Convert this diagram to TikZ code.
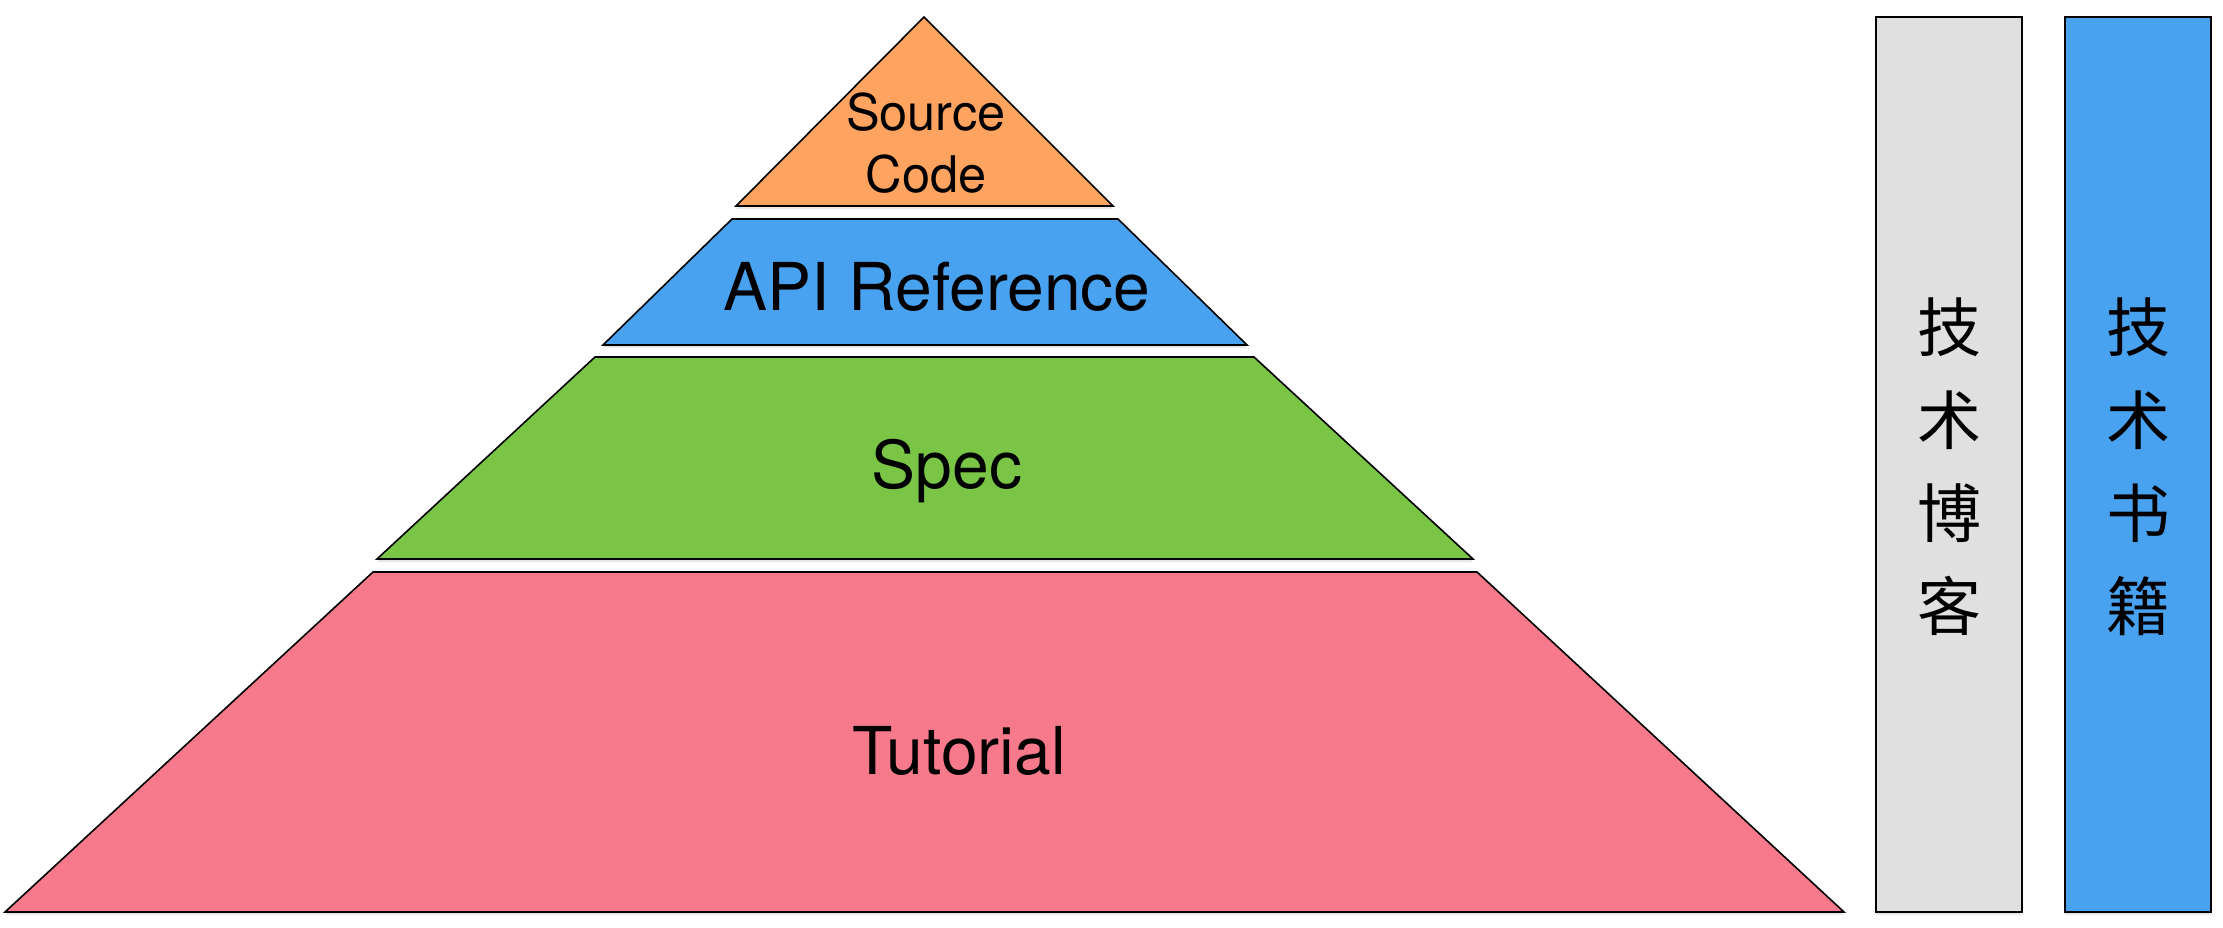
\documentclass[tikz,border=0pt]{standalone}
\usepackage{fontspec}
\setmainfont{TeX Gyre Heros}
\newfontfamily\cjk{Noto Sans CJK SC}
\usetikzlibrary{shadows}
\definecolor{cOrange}{RGB}{255,164,96}
\definecolor{cBlue}{RGB}{72,162,240}
\definecolor{cGreen}{RGB}{122,197,70}
\definecolor{cPink}{RGB}{247,122,140}
\definecolor{cGray}{RGB}{224,224,224}
\tikzset{
  layer/.style={draw=black, line width=1.6pt, line join=miter,
    drop shadow={opacity=0.18, shadow xshift=0pt, shadow yshift=-3pt}},
  lbl/.style={anchor=base, inner sep=0pt, font=\fontsize{66}{78}\selectfont},
  cjklbl/.style={align=center, inner sep=0pt, font=\cjk\fontsize{64}{93}\selectfont}
}
\begin{document}
\begin{tikzpicture}[x=1pt, y=-1pt]
\useasboundingbox (0,0) rectangle (2223,928);
% pyramid layers
\path[layer, fill=cOrange] (924,17) -- (1113,206) -- (736,206) -- cycle;
\path[layer, fill=cBlue] (732,219) -- (1118,219) -- (1247,345) -- (603,345) -- cycle;
\path[layer, fill=cGreen] (595,357) -- (1254,357) -- (1473,559) -- (377,559) -- cycle;
\path[layer, fill=cPink] (373,572) -- (1477,572) -- (1844,912) -- (5,912) -- cycle;
% side bars
\path[layer, fill=cGray] (1876,17) rectangle (2022,912);
\path[layer, fill=cBlue] (2065,17) rectangle (2211,912);
% labels
\node[lbl, font=\fontsize{50.5}{62}\selectfont] (src1) at (926,131) {Source};
\node[lbl, font=\fontsize{50.5}{62}\selectfont] (src2) at (926,193) {Code};
\node[lbl] (api) at (937,310) {API Reference};
\node[lbl] (spec) at (947,488) {Spec};
\node[lbl] (tut) at (959,774) {Tutorial};
\node[cjklbl] (blog) at (1949,467) {技\\术\\博\\客};
\node[cjklbl] (book) at (2138,467) {技\\术\\书\\籍};
\end{tikzpicture}
\end{document}
